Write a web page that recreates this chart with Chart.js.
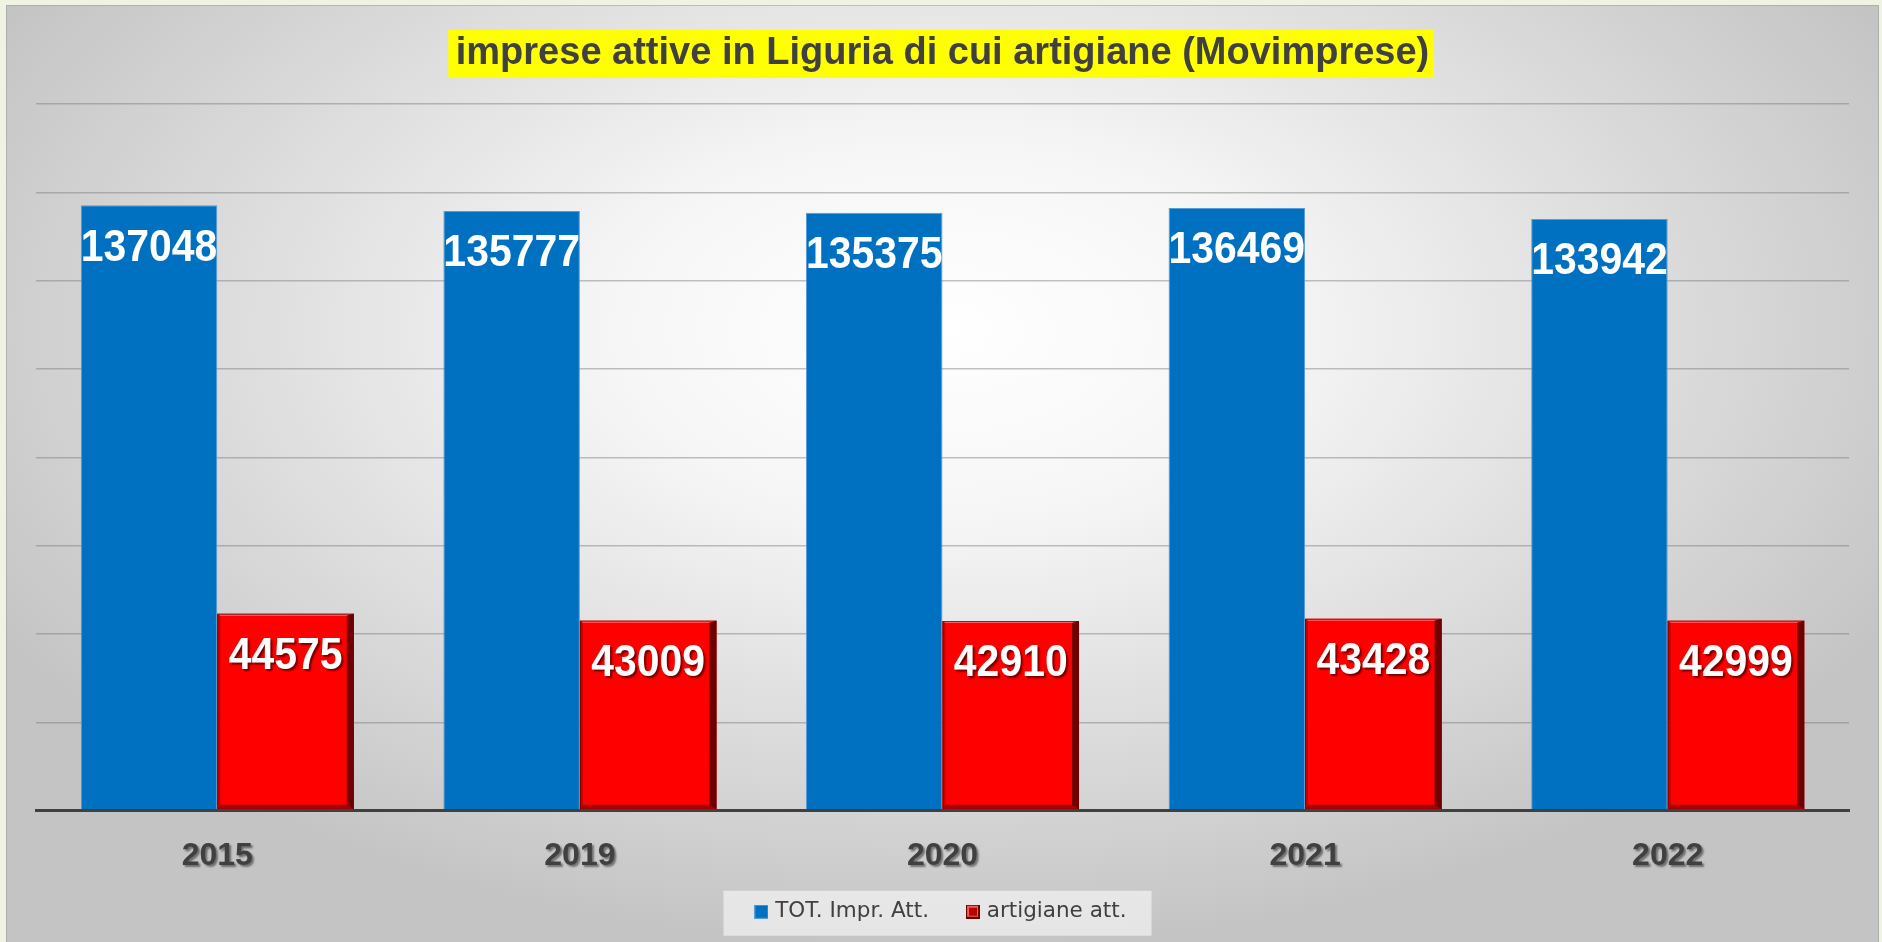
<!DOCTYPE html>
<html>
<head>
<meta charset="utf-8">
<title>imprese attive in Liguria di cui artigiane (Movimprese)</title>
<script src="https://cdn.jsdelivr.net/npm/chart.js@4.4.1/dist/chart.umd.min.js"></script>
<style>
    html, body { margin: 0; padding: 0; background: #eef3e2; overflow: hidden; }
    #wrap { position: relative; width: 1882px; height: 942px; }
</style>
</head>
<body>
<div id="wrap"><canvas id="impreseChart"></canvas></div>
<script>
// Dati Movimprese
var anni = ['2015', '2019', '2020', '2021', '2022'];
var totImprese = [137048, 135777, 135375, 136469, 133942];
var artigiane = [44575, 43009, 42910, 43428, 42999];
var nomiSerie = ['TOT. Impr. Att.', 'artigiane att.'];
var titolo = 'imprese attive in Liguria di cui artigiane (Movimprese)';
var Y_MAX = 160000;
var Y_STEP = 20000;

var FONT = "'Liberation Sans', Arial, sans-serif";
var FONT_LEGENDA = "'DejaVu Sans', sans-serif";
var GRIGIO = '#404040';
var BLU = '#0070c0';
var ROSSO = '#ff0000';

// Piccoli quadratini per la legenda
function makeMarker(rosso) {
    var c = document.createElement('canvas');
    c.width = 14;
    c.height = 14;
    var g = c.getContext('2d');
    if (!rosso) {
        g.fillStyle = '#5b9bd5';
        g.fillRect(0, 0, 14, 14);
        g.fillStyle = BLU;
        g.fillRect(1, 1, 12, 12);
    } else {
        g.fillStyle = '#6e0000';
        g.fillRect(0, 0, 14, 14);
        g.fillStyle = '#e86060';
        g.fillRect(1, 1, 11, 11);
        g.fillStyle = '#c00000';
        g.fillRect(3, 3, 8, 8);
    }
    return c;
}
var markers = [makeMarker(false), makeMarker(true)];

// Bordo in rilievo delle barre rosse
function drawBevel(ctx, left, top, right, bottom) {
    var r = 7, b = 5, l = 3, t = 2;
    ctx.fillStyle = '#c80000';
    ctx.beginPath();
    ctx.moveTo(left, top); ctx.lineTo(left + l, top + t);
    ctx.lineTo(left + l, bottom - b); ctx.lineTo(left, bottom);
    ctx.closePath(); ctx.fill();
    ctx.fillStyle = '#ff6a6a';
    ctx.beginPath();
    ctx.moveTo(left, top); ctx.lineTo(right, top);
    ctx.lineTo(right - r, top + t); ctx.lineTo(left + l, top + t);
    ctx.closePath(); ctx.fill();
    ctx.fillStyle = '#a80000';
    ctx.beginPath();
    ctx.moveTo(left, bottom); ctx.lineTo(right, bottom);
    ctx.lineTo(right - r, bottom - b); ctx.lineTo(left + l, bottom - b);
    ctx.closePath(); ctx.fill();
    ctx.fillStyle = '#700000';
    ctx.beginPath();
    ctx.moveTo(right, top); ctx.lineTo(right, bottom);
    ctx.lineTo(right - r, bottom - b); ctx.lineTo(right - r, top + t);
    ctx.closePath(); ctx.fill();
    ctx.strokeStyle = 'rgba(110,0,0,0.8)';
    ctx.lineWidth = 1;
    ctx.strokeRect(left + 0.5, top + 0.5, right - left - 1, bottom - top - 1);
}

var sfondoPlugin = {
    id: 'sfondo',
    afterLayout: function(chart) {
        // ombra sotto le etichette degli anni
        var sx = chart.scales.x;
        if (sx && !sx._conOmbra) {
            var orig = sx.drawLabels;
            sx.drawLabels = function(area) {
                var c = this.ctx;
                c.save();
                c.shadowColor = 'rgba(0,0,0,0.45)';
                c.shadowOffsetX = 2;
                c.shadowOffsetY = 2;
                c.shadowBlur = 2;
                orig.call(this, area);
                c.restore();
            };
            sx._conOmbra = true;
        }
    },
    beforeDraw: function(chart) {
        var ctx = chart.ctx;
        var w = chart.width, h = chart.height;
        ctx.save();
        ctx.fillStyle = '#eef3e2';
        ctx.fillRect(0, 0, w, h);

        // pannello grigio con sfumatura radiale
        ctx.save();
        ctx.beginPath();
        ctx.rect(6, 5, w - 9, h - 5);
        ctx.clip();
        ctx.translate(940, 330);
        ctx.scale(1.75, 1);
        var grad = ctx.createRadialGradient(0, 0, 0, 0, 0, 620);
        grad.addColorStop(0, '#ffffff');
        grad.addColorStop(0.3, '#f6f6f6');
        grad.addColorStop(1, '#c4c4c4');
        ctx.fillStyle = grad;
        ctx.fillRect(-600, -400, 1200, 1100);
        ctx.restore();
        ctx.strokeStyle = 'rgba(150,150,150,0.5)';
        ctx.lineWidth = 1;
        ctx.strokeRect(6.5, 5.5, w - 10, h);

        // riquadro giallo del titolo
        var tf = chart.options.plugins.title.font;
        ctx.font = 'bold ' + tf.size + 'px ' + FONT;
        var tw = ctx.measureText(titolo).width;
        var tb = chart.titleBlock;
        var cy = tb.top + tb.options.padding.top + tf.size * 0.6;
        ctx.fillStyle = '#ffff00';
        ctx.fillRect(w / 2 - tw / 2 - 6, cy - 24, tw + 12, 48);

        // riquadro chiaro della legenda
        var boxes = chart.legend.legendHitBoxes;
        if (boxes && boxes.length) {
            var l = boxes[0].left, r = boxes[0].left + boxes[0].width;
            var mid = boxes[0].top + boxes[0].height / 2;
            boxes.forEach(function(b) {
                l = Math.min(l, b.left);
                r = Math.max(r, b.left + b.width);
            });
            ctx.fillStyle = 'rgba(255,255,255,0.55)';
            ctx.fillRect(l - 35, mid - 21, r - l + 60, 45);
        }
        ctx.restore();
    },
    afterDatasetsDraw: function(chart) {
        var ctx = chart.ctx;
        ctx.save();
        chart.getDatasetMeta(1).data.forEach(function(el) {
            var p = el.getProps(['x', 'y', 'base', 'width'], true);
            drawBevel(ctx, p.x - p.width / 2, p.y, p.x + p.width / 2, p.base);
        });

        ctx.font = 'bold 44px ' + FONT;
        ctx.textAlign = 'center';
        ctx.textBaseline = 'middle';
        ctx.fillStyle = '#ffffff';
        chart.data.datasets.forEach(function(ds, i) {
            chart.getDatasetMeta(i).data.forEach(function(el, j) {
                var p = el.getProps(['x', 'y', 'width'], true);
                ctx.save();
                if (i === 0) {
                    ctx.beginPath();
                    ctx.rect(p.x - p.width / 2, 0, p.width + 1, chart.height);
                    ctx.clip();
                } else {
                    ctx.shadowColor = 'rgba(90,0,0,0.85)';
                    ctx.shadowOffsetX = 2;
                    ctx.shadowOffsetY = 2;
                    ctx.shadowBlur = 2;
                }
                ctx.translate(p.x, p.y + 43);
                ctx.scale(0.93, 1);
                ctx.fillText(String(ds.data[j]), 0, 0);
                ctx.restore();
            });
        });
        ctx.restore();
    }
};

var ctx = document.getElementById('impreseChart').getContext('2d');
var impreseChart = new Chart(ctx, {
    type: 'bar',
    data: {
        labels: anni,
        datasets: [
            {
                label: nomiSerie[0],
                data: totImprese,
                backgroundColor: BLU,
                borderColor: '#5b9bd5',
                borderWidth: 1,
                categoryPercentage: 0.753,
                barPercentage: 1.0
            },
            {
                label: nomiSerie[1],
                data: artigiane,
                backgroundColor: ROSSO,
                borderWidth: 0,
                categoryPercentage: 0.753,
                barPercentage: 1.0
            }
        ]
    },
    options: {
        responsive: true,
        maintainAspectRatio: false,
        animation: false,
        devicePixelRatio: 1,
        events: [],
        layout: {
            padding: { left: 36, right: 33, top: 0, bottom: 9.5 }
        },
        scales: {
            x: {
                grid: { display: false, drawTicks: false },
                border: { display: true, color: GRIGIO, width: 3, z: 1 },
                ticks: {
                    color: GRIGIO,
                    padding: 26,
                    font: { family: FONT, size: 32, weight: 'bold' }
                }
            },
            y: {
                min: 0,
                max: Y_MAX,
                ticks: { display: false, stepSize: Y_STEP },
                grid: { color: 'rgba(120,120,120,0.45)', lineWidth: 1.5, drawTicks: false },
                border: { display: false }
            }
        },
        plugins: {
            tooltip: { enabled: false },
            title: {
                display: true,
                text: titolo,
                color: GRIGIO,
                font: { family: FONT, size: 38, weight: 'bold' },
                padding: { top: 31.2, bottom: 27.2 }
            },
            legend: {
                position: 'bottom',
                labels: {
                    color: GRIGIO,
                    font: { family: FONT_LEGENDA, size: 21.5 },
                    usePointStyle: true,
                    boxWidth: 6,
                    boxHeight: 14,
                    padding: 0,
                    generateLabels: function(chart) {
                        var items = Chart.defaults.plugins.legend.labels.generateLabels(chart);
                        items.forEach(function(it, i) {
                            it.pointStyle = markers[i];
                            // spazio tra le due voci
                            if (i < items.length - 1) {
                                it.text = it.text + '      ';
                            }
                        });
                        return items;
                    }
                }
            }
        }
    },
    plugins: [sfondoPlugin]
});
</script>
</body>
</html>
